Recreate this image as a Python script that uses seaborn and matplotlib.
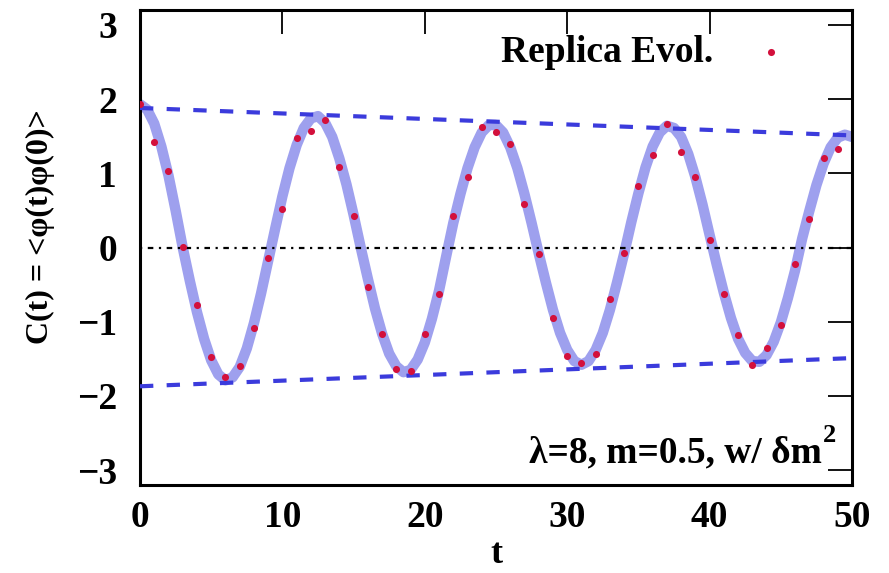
import numpy as np
import pandas as pd
import matplotlib
matplotlib.use("Agg")
import matplotlib.pyplot as plt
import seaborn as sns

# ---------------- data ----------------
t_curve = np.arange(0, 50.5, 0.5)
c_curve = [1.93, 1.86, 1.67, 1.36, 0.97, 0.50, 0.00, -0.45, -0.87, -1.23,
           -1.52, -1.71, -1.79, -1.75, -1.61, -1.36, -1.02, -0.62, -0.18, 0.26,
           0.69, 1.07, 1.38, 1.61, 1.74, 1.77, 1.68, 1.49, 1.20, 0.85,
           0.44, 0.00, -0.42, -0.82, -1.16, -1.43, -1.60, -1.68, -1.65, -1.51,
           -1.28, -0.96, -0.58, -0.12, 0.33, 0.72, 1.07, 1.35, 1.55, 1.65,
           1.65, 1.55, 1.35, 1.07, 0.72, 0.33, -0.08, -0.47, -0.84, -1.15,
           -1.38, -1.53, -1.58, -1.53, -1.38, -1.15, -0.84, -0.47, -0.08, 0.34,
           0.73, 1.08, 1.36, 1.55, 1.64, 1.61, 1.49, 1.26, 0.95, 0.58,
           0.17, -0.23, -0.61, -0.95, -1.23, -1.42, -1.53, -1.54, -1.45, -1.27,
           -1.01, -0.68, -0.31, 0.12, 0.49, 0.84, 1.13, 1.35, 1.48, 1.52,
           1.49]

t_dots = np.arange(0, 50, 1)
c_dots = [1.93, 1.42, 1.03, 0.01, -0.78, -1.47, -1.74, -1.60, -1.09, -0.14,
          0.52, 1.47, 1.57, 1.72, 1.08, 0.43, -0.53, -1.16, -1.64, -1.66,
          -1.17, -0.63, 0.42, 0.95, 1.62, 1.56, 1.39, 0.58, -0.09, -0.95,
          -1.46, -1.55, -1.44, -0.69, -0.08, 0.83, 1.24, 1.66, 1.29, 0.95,
          0.10, -0.62, -1.18, -1.58, -1.35, -1.04, -0.22, 0.38, 1.20, 1.33]

t_env = [0, 50]
env_upper = [1.88, 1.51]
env_lower = [-1.87, -1.49]

x_ticks = [0, 10, 20, 30, 40, 50]
y_ticks = [-3, -2, -1, 0, 1, 2, 3]

# ---------------- style ----------------
sns.set_theme(style="white")
plt.rcParams['font.family'] = ['Liberation Serif', 'DejaVu Serif']
plt.rcParams['font.weight'] = 'bold'
plt.rcParams['text.color'] = 'black'
plt.rcParams['axes.labelcolor'] = 'black'
plt.rcParams['xtick.color'] = 'black'
plt.rcParams['ytick.color'] = 'black'

fig = plt.figure(figsize=(8.89, 5.73), dpi=100)
ax = fig.add_axes([140/889, 88/573, 712/889, 475/573])

df_curve = pd.DataFrame({"t": t_curve, "C": c_curve})
df_dots = pd.DataFrame({"t": t_dots, "C": c_dots})

sns.lineplot(data=df_curve, x="t", y="C", ax=ax, color="#9ea0ee",
             linewidth=7.5, zorder=2, solid_capstyle='round')
ax.axhline(0, color="black", linewidth=1.6,
           linestyle=(0, (1.0, 2.5, 2.5, 2.5)), zorder=3)
sns.lineplot(x=t_env, y=env_upper, ax=ax, color="#3b3bdc", linewidth=3.0,
             zorder=3)
sns.lineplot(x=t_env, y=env_lower, ax=ax, color="#3b3bdc", linewidth=3.0,
             zorder=3)
for ln in ax.get_lines()[-2:]:
    ln.set_linestyle((0, (3.2, 3.2)))
sns.scatterplot(data=df_dots, x="t", y="C", ax=ax, color="#d3103c", s=26,
                linewidth=0, zorder=4, label="Replica Evol.")

ax.set_xlim(0, 50)
ax.set_ylim(-3.2, 3.2)
ax.set_xticks(x_ticks)
ax.set_yticks(y_ticks)
ax.set_xlabel("")
ax.set_ylabel("")
ax.tick_params(direction='in', length=17, width=1.3, top=True, right=True,
               labelsize=27, colors='black')
ax.tick_params(axis='x', pad=10.5)
ax.tick_params(axis='y', pad=16.5)
for lab in ax.get_xticklabels() + ax.get_yticklabels():
    lab.set_fontweight('bold')
for sp in ax.spines.values():
    sp.set_linewidth(2.2)
    sp.set_color('black')

leg = ax.legend(loc='center right', bbox_to_anchor=(0.939, 0.9105),
                frameon=False, markerfirst=False, fontsize=27,
                handlelength=2.0, handletextpad=0.55, borderpad=0,
                borderaxespad=0, markerscale=1.0)
for txt in leg.get_texts():
    txt.set_fontweight('bold')
    txt.set_color('black')

ax.text((822 - 140)/712, (485 - 462)/475, "λ=8, m=0.5, w/ δm",
        transform=ax.transAxes, ha='right', va='baseline', fontsize=27,
        fontweight='bold', color='black')
ax.text((823 - 140)/712, (485 - 442)/475, "2",
        transform=ax.transAxes, ha='left', va='baseline', fontsize=19,
        fontweight='bold', color='black')

fig.text(40/889, 1 - 227/573, "C(t) = <φ(t)φ(0)>", rotation=90,
         ha='center', va='center', fontsize=23, fontweight='bold',
         color='black')
fig.text(496/889, 1 - 571/573, "t", ha='center', va='bottom', fontsize=26,
         fontweight='bold', color='black')

fig.savefig("out.png", dpi=100)
